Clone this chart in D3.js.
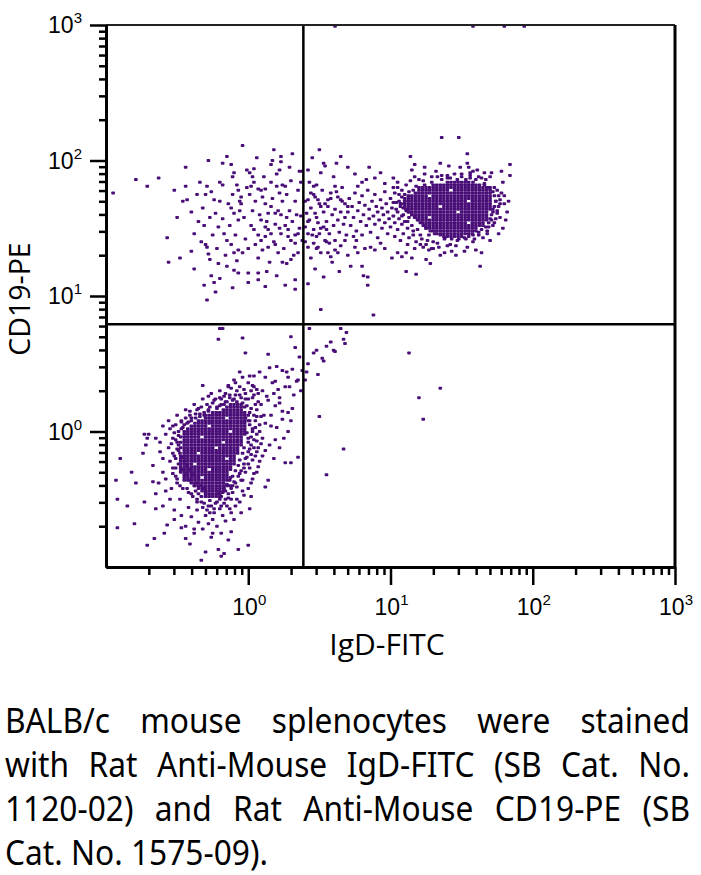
<!DOCTYPE html>
<html>
<head>
<meta charset="utf-8">
<script src="https://cdn.jsdelivr.net/npm/d3@7"></script>
<style>
  body { margin: 0; background: #fff; }
</style>
</head>
<body>
<svg id="chart" width="701" height="875"></svg>
<script>
// axis decades (log10) and their labels
const decades = [-1, 0, 1, 2, 3]
const tickExponents = ["", "0", "1", "2", "3"]

// quadrant gates (fluorescence units)
const igdGate = 2.44
const cd19Gate = 6.2

// events, all values in log10 units: [IgD-FITC, CD19-PE]
// dense IgD-/CD19- core, written row by row: [CD19, [IgD, ...]]
const negCoreRows = [
  [0.20, [-0.125, -0.1, -0.075, -0.05]],
  [0.18, [-0.15, -0.125, -0.1, -0.075, -0.05, -0.025]],
  [0.16, [-0.175, -0.15, -0.125, -0.1, -0.075, -0.05]],
  [0.14, [-0.25, -0.225, -0.2, -0.175, -0.15, -0.125, -0.1, -0.075, -0.05, -0.025]],
  [0.12, [-0.3, -0.275, -0.25, -0.225, -0.2, -0.175, -0.15, -0.125, -0.1, -0.075, -0.05, -0.025, 0]],
  [0.10, [-0.3, -0.275, -0.25, -0.225, -0.2, -0.175, -0.125, -0.1, -0.075, -0.05, -0.025]],
  [0.08, [-0.35, -0.325, -0.3, -0.275, -0.25, -0.225, -0.2, -0.175, -0.15, -0.125, -0.1, -0.075, -0.05, -0.025, 0]],
  [0.06, [-0.375, -0.35, -0.325, -0.3, -0.275, -0.25, -0.225, -0.2, -0.175, -0.15, -0.125, -0.1, -0.075, -0.05, -0.025]],
  [0.04, [-0.4, -0.375, -0.35, -0.325, -0.3, -0.25, -0.225, -0.2, -0.175, -0.15, -0.125, -0.1, -0.075, -0.05, -0.025]],
  [0.02, [-0.425, -0.4, -0.375, -0.35, -0.325, -0.3, -0.275, -0.25, -0.225, -0.2, -0.175, -0.15, -0.125, -0.1, -0.075, -0.05, -0.025]],
  [0.00, [-0.45, -0.425, -0.4, -0.375, -0.35, -0.325, -0.3, -0.275, -0.25, -0.225, -0.2, -0.175, -0.15, -0.1, -0.075, -0.05, -0.025]],
  [-0.02, [-0.45, -0.425, -0.4, -0.375, -0.35, -0.325, -0.3, -0.275, -0.25, -0.225, -0.2, -0.175, -0.15, -0.125, -0.1, -0.075, -0.05, -0.025]],
  [-0.04, [-0.475, -0.45, -0.425, -0.4, -0.375, -0.35, -0.3, -0.275, -0.25, -0.225, -0.2, -0.175, -0.15, -0.125, -0.1, -0.075, -0.05]],
  [-0.06, [-0.45, -0.425, -0.4, -0.375, -0.35, -0.325, -0.3, -0.275, -0.25, -0.225, -0.2, -0.175, -0.15, -0.125, -0.1, -0.075, -0.05]],
  [-0.08, [-0.475, -0.45, -0.425, -0.4, -0.375, -0.35, -0.325, -0.3, -0.275, -0.25, -0.225, -0.2, -0.15, -0.125, -0.1, -0.075, -0.05]],
  [-0.10, [-0.45, -0.425, -0.4, -0.375, -0.35, -0.325, -0.3, -0.275, -0.25, -0.225, -0.2, -0.175, -0.15, -0.125, -0.1, -0.075, -0.05]],
  [-0.12, [-0.475, -0.45, -0.425, -0.4, -0.375, -0.35, -0.325, -0.3, -0.275, -0.25, -0.2, -0.175, -0.15, -0.125, -0.1, -0.075]],
  [-0.14, [-0.45, -0.425, -0.4, -0.375, -0.35, -0.325, -0.3, -0.275, -0.25, -0.225, -0.2, -0.175, -0.15, -0.125, -0.1, -0.075]],
  [-0.16, [-0.45, -0.425, -0.4, -0.375, -0.325, -0.3, -0.275, -0.25, -0.225, -0.2, -0.175, -0.15, -0.125, -0.1, -0.075]],
  [-0.18, [-0.475, -0.45, -0.425, -0.4, -0.375, -0.35, -0.325, -0.3, -0.275, -0.25, -0.225, -0.2, -0.175, -0.15, -0.125, -0.1]],
  [-0.20, [-0.475, -0.45, -0.425, -0.4, -0.375, -0.35, -0.325, -0.3, -0.275, -0.25, -0.225, -0.2, -0.175, -0.125, -0.1]],
  [-0.22, [-0.475, -0.45, -0.425, -0.4, -0.375, -0.35, -0.325, -0.3, -0.275, -0.25, -0.225, -0.2, -0.175, -0.15, -0.125, -0.1]],
  [-0.24, [-0.475, -0.45, -0.425, -0.4, -0.35, -0.325, -0.3, -0.275, -0.25, -0.225, -0.2, -0.175, -0.15, -0.125, -0.1]],
  [-0.26, [-0.475, -0.45, -0.425, -0.4, -0.375, -0.35, -0.325, -0.3, -0.275, -0.25, -0.225, -0.2, -0.175, -0.15, -0.125]],
  [-0.28, [-0.475, -0.45, -0.425, -0.4, -0.375, -0.35, -0.325, -0.3, -0.25, -0.225, -0.2, -0.175, -0.15, -0.125]],
  [-0.30, [-0.475, -0.45, -0.425, -0.4, -0.375, -0.35, -0.325, -0.3, -0.275, -0.25, -0.225, -0.2, -0.175, -0.15]],
  [-0.32, [-0.45, -0.425, -0.4, -0.375, -0.35, -0.325, -0.3, -0.275, -0.25, -0.225, -0.2, -0.175, -0.15]],
  [-0.34, [-0.45, -0.425, -0.4, -0.375, -0.35, -0.3, -0.275, -0.25, -0.225, -0.2, -0.175, -0.15, -0.125]],
  [-0.36, [-0.425, -0.4, -0.375, -0.35, -0.325, -0.3, -0.275, -0.25, -0.225, -0.2, -0.175, -0.15]],
  [-0.38, [-0.4, -0.375, -0.35, -0.325, -0.3, -0.275, -0.25, -0.225, -0.2, -0.175]],
  [-0.40, [-0.375, -0.35, -0.325, -0.3, -0.275, -0.25, -0.225, -0.2, -0.175, -0.15]],
  [-0.42, [-0.35, -0.325, -0.3, -0.275, -0.25, -0.225, -0.2, -0.175]],
  [-0.44, [-0.325, -0.3, -0.275, -0.25, -0.225, -0.2, -0.175]],
  [-0.46, [-0.3, -0.275, -0.25, -0.225, -0.2]],
  [-0.48, [-0.3, -0.275, -0.25, -0.225, -0.2]]
]

// crowded rim just outside the IgD-/CD19- core
const negEdge = [
  [-0.01, 0.19], [0.01, 0.14], [-0.02, 0.10], [0.01, 0.05], [0.03, 0.00], [-0.01, -0.01], [0.02, -0.04], [0.00, -0.08],
  [0.04, -0.06], [-0.03, -0.12], [0.01, -0.13], [-0.04, -0.16], [-0.01, -0.19], [0.03, -0.21], [-0.06, -0.21], [-0.07, -0.25],
  [-0.03, -0.27], [-0.09, -0.29], [-0.06, -0.31], [-0.11, -0.33], [-0.13, -0.36], [-0.15, -0.39], [-0.17, -0.42], [-0.12, -0.42],
  [-0.18, -0.45], [-0.21, -0.46], [-0.20, -0.50], [-0.23, -0.53], [-0.27, -0.51], [-0.30, -0.48], [-0.31, -0.42], [-0.33, -0.40],
  [-0.36, -0.38], [-0.35, -0.34], [-0.38, -0.32], [-0.40, -0.30], [-0.42, -0.28], [-0.43, -0.25], [-0.45, -0.22], [-0.46, -0.19],
  [-0.48, -0.16], [-0.50, -0.13], [-0.49, -0.10], [-0.51, -0.06], [-0.49, -0.03], [-0.47, 0.02], [-0.45, 0.05], [-0.42, 0.07],
  [-0.40, 0.10], [-0.37, 0.10], [-0.34, 0.13], [-0.31, 0.12], [-0.28, 0.15], [-0.27, 0.18], [-0.22, 0.17], [-0.20, 0.19],
  [-0.17, 0.20], [-0.15, 0.22], [-0.11, 0.23], [-0.08, 0.22], [-0.04, 0.21], [-0.02, 0.24], [-0.13, 0.25], [-0.06, 0.27],
  [0.05, 0.03], [0.06, -0.02], [0.04, -0.12], [0.06, -0.15], [0.02, -0.17], [0.00, -0.24], [-0.02, -0.30], [-0.05, -0.36],
  [-0.09, -0.38], [-0.11, -0.40], [-0.14, -0.46], [-0.16, -0.50], [-0.19, -0.55], [-0.24, -0.57], [-0.28, -0.55], [-0.33, -0.52],
  [-0.35, -0.46], [-0.38, -0.40], [-0.41, -0.36], [-0.44, -0.32], [-0.47, -0.28], [-0.49, -0.24], [-0.51, -0.20], [-0.53, -0.16],
  [-0.54, -0.09], [-0.52, -0.01], [-0.51, 0.05], [-0.47, 0.07], [-0.44, 0.10], [-0.41, 0.15], [-0.36, 0.16], [-0.33, 0.18],
  [-0.29, 0.20], [-0.24, 0.23], [-0.20, 0.25], [-0.16, 0.28], [-0.09, 0.27], [-0.03, 0.31], [0.02, 0.30], [0.04, 0.27],
  [0.07, 0.22], [0.06, 0.11], [0.08, 0.00], [0.09, -0.09], [-0.51, -0.33], [-0.50, -0.38], [-0.46, -0.42], [-0.42, -0.45],
  [-0.39, -0.48], [-0.36, -0.52], [-0.32, -0.56], [-0.27, -0.60], [-0.15, -0.55], [-0.12, -0.50], [-0.53, -0.27]
]

// IgD-/CD19- events around the core
const negScatter = [
  [-0.55, 0.02], [-0.53, -0.05], [-0.56, -0.12], [-0.52, -0.18], [-0.55, -0.22], [-0.51, -0.27], [-0.53, -0.31], [-0.50, -0.35],
  [-0.48, -0.40], [-0.45, -0.36], [-0.43, -0.42], [-0.40, -0.46], [-0.37, -0.44], [-0.36, -0.50], [-0.33, -0.48], [-0.31, -0.53],
  [-0.30, -0.45], [-0.29, -0.58], [-0.26, -0.55], [-0.24, -0.60], [-0.22, -0.52], [-0.20, -0.57], [-0.19, -0.48], [-0.17, -0.53],
  [-0.16, -0.44], [-0.14, -0.49], [-0.13, -0.40], [-0.11, -0.45], [-0.10, -0.37], [-0.08, -0.41], [-0.07, -0.33], [-0.05, -0.29],
  [-0.04, -0.36], [-0.03, -0.24], [-0.02, -0.20], [0.00, -0.15], [0.01, -0.27], [0.02, -0.10], [0.00, -0.05], [0.03, 0.02],
  [0.01, 0.08], [0.04, 0.12], [0.02, 0.17], [0.05, 0.20], [0.00, 0.24], [-0.02, 0.28], [-0.05, 0.25], [-0.08, 0.30],
  [-0.10, 0.24], [-0.13, 0.27], [-0.16, 0.22], [-0.19, 0.20], [-0.22, 0.18], [-0.25, 0.21], [-0.28, 0.16], [-0.31, 0.14],
  [-0.34, 0.11], [-0.37, 0.13], [-0.40, 0.08], [-0.43, 0.06], [-0.46, 0.03], [-0.49, 0.00], [-0.50, -0.08], [-0.49, -0.14],
  [-0.65, -0.05], [-0.62, -0.15], [-0.67, -0.25], [-0.60, -0.30], [-0.63, -0.38], [-0.58, -0.44], [-0.55, -0.50], [-0.60, -0.55],
  [-0.52, -0.58], [-0.47, -0.62], [-0.44, -0.70], [-0.40, -0.63], [-0.35, -0.67], [-0.38, -0.75], [-0.32, -0.72], [-0.28, -0.68],
  [-0.26, -0.78], [-0.22, -0.70], [-0.19, -0.75], [-0.16, -0.66], [-0.12, -0.60], [-0.09, -0.55], [-0.06, -0.52], [-0.03, -0.47],
  [0.00, -0.42], [0.03, -0.35], [0.06, -0.30], [0.08, -0.22], [0.07, -0.12], [0.10, -0.05], [0.08, 0.05], [0.11, 0.12],
  [0.09, 0.20], [0.07, 0.28], [0.04, 0.33], [0.00, 0.36], [-0.04, 0.40], [-0.09, 0.36], [-0.14, 0.33], [-0.20, 0.30],
  [-0.26, 0.28], [-0.32, 0.24], [-0.38, 0.20], [-0.44, 0.16], [-0.50, 0.12], [-0.56, 0.08], [-0.60, 0.04], [-0.70, -0.02],
  [-0.72, -0.10], [-0.58, -0.02], [-0.60, -0.20], [-0.62, -0.08], [-0.58, -0.35], [-0.54, -0.42], [-0.48, -0.50], [-0.42, -0.56],
  [-0.36, -0.58], [-0.30, -0.62], [-0.25, -0.65], [-0.18, -0.62], [-0.13, -0.57], [-0.08, -0.50], [-0.04, -0.44], [0.02, -0.38],
  [0.05, -0.18], [0.06, -0.07], [0.05, 0.08], [0.06, 0.16], [0.03, 0.25], [-0.06, 0.33], [-0.17, 0.26], [-0.23, 0.24],
  [-0.35, 0.17], [-0.41, 0.12], [-0.47, 0.08], [-0.53, 0.04],
  [-0.93, -0.36], [-0.92, -0.50], [-0.92, -0.71], [-0.82, -0.30], [-0.79, -0.38], [-0.73, -0.02], [-0.71, -0.05], [-0.74, -0.16],
  [-0.71, -0.84], [-0.66, -0.79], [-0.67, -0.37], [-0.73, -0.52], [-0.65, -0.46], [-0.65, -0.57], [-0.59, -0.75], [-0.57, -0.69],
  [-0.52, -0.65], [-0.47, -0.71], [-0.44, -0.79], [-0.41, -0.83], [-0.38, -0.72], [-0.33, -0.95], [-0.30, -0.89], [-0.25, -0.75],
  [-0.21, -0.87], [-0.19, -0.92], [-0.17, -0.90], [-0.14, -0.80], [-0.12, -0.74], [-0.07, -0.87], [0.00, -0.84], [-0.10, -0.65],
  [-0.05, -0.60], [0.01, -0.57], [0.14, -0.36], [0.12, -0.41], [0.26, -0.23], [0.30, -0.23], [0.35, -0.19], [0.28, 0.00],
  [0.24, 0.09], [0.28, 0.14], [0.31, 0.17], [0.19, 0.19], [0.22, 0.21], [0.14, 0.23], [0.17, 0.36], [0.19, 0.37],
  [0.21, 0.31], [0.26, 0.33], [0.29, 0.33], [0.34, 0.37], [0.35, 0.38], [0.04, 0.41], [0.01, 0.41], [0.03, 0.34],
  [0.06, 0.31], [-0.06, 0.44], [-0.10, 0.38], [-0.12, 0.32], [-0.14, 0.34], [-0.32, 0.34], [-0.28, 0.26], [-0.19, 0.24],
  [-0.20, 0.76], [-0.18, 0.76], [-0.21, 0.68], [-0.04, 0.69], [-0.02, 0.58], [0.14, 0.57], [0.20, 0.48], [0.24, 0.45],
  [0.27, 0.44], [0.09, 0.11], [0.16, 0.04], [0.19, -0.06], [0.12, -0.14], [0.07, -0.26], [0.04, -0.31], [0.02, -0.48],
  [0.10, 0.30], [0.13, 0.26], [0.18, 0.28], [0.22, 0.25], [0.24, 0.15], [0.16, 0.12], [0.12, 0.06], [0.20, 0.03],
  [0.25, -0.05], [0.15, -0.10], [0.10, -0.18], [0.18, -0.20], [0.22, -0.12], [0.30, 0.08], [0.32, 0.27], [0.28, 0.40],
  [0.12, 0.40], [0.08, 0.44], [0.15, 0.47], [0.31, 0.46], [-0.90, -0.20], [-0.85, -0.55], [-0.80, -0.68]
]

// IgD-/CD19+ events (upper left quadrant)
const cd19Only = [
  [-0.95, 1.76], [-0.79, 1.86], [-0.71, 1.81], [-0.63, 1.87], [-0.57, 1.43], [-0.44, 1.81], [-0.43, 1.71], [-0.40, 1.62],
  [-0.38, 1.46], [-0.34, 1.84], [-0.32, 1.65], [-0.30, 1.75], [-0.28, 2.00], [-0.29, 1.81], [-0.26, 1.77], [-0.30, 1.38],
  [-0.29, 1.36], [-0.28, 1.31], [-0.27, 1.27], [-0.26, 1.15], [-0.24, 1.10], [-0.24, 1.71], [-0.23, 1.61], [-0.20, 1.84],
  [-0.18, 1.82], [-0.21, 1.51], [-0.15, 2.03], [-0.18, 1.98], [-0.12, 1.97], [-0.11, 1.88], [-0.10, 1.91], [-0.08, 1.82],
  [-0.07, 1.78], [-0.05, 1.73], [-0.04, 2.11], [-0.14, 1.68], [-0.12, 1.65], [-0.10, 1.61], [-0.07, 1.56], [-0.06, 1.63],
  [-0.05, 1.68], [-0.17, 1.46], [-0.15, 1.41], [-0.12, 1.38], [-0.10, 1.32], [-0.07, 1.34], [-0.04, 1.32], [0.00, 1.35],
  [-0.21, 1.24], [-0.15, 1.22], [-0.10, 1.19], [-0.07, 1.17], [0.00, 1.17], [0.07, 1.17], [0.13, 1.18], [0.07, 1.12],
  [0.01, 1.75], [0.02, 1.81], [0.03, 1.88], [0.04, 1.84], [0.07, 1.79], [0.09, 1.78], [0.12, 1.79], [-0.01, 1.93],
  [0.01, 1.91], [0.04, 1.94], [0.16, 1.97], [0.17, 2.00], [0.23, 2.03], [0.23, 1.99], [0.22, 1.93], [0.16, 1.84],
  [0.20, 1.81], [0.22, 1.76], [0.24, 1.82], [0.26, 1.81], [0.12, 1.68], [0.14, 1.61], [0.16, 1.66], [0.19, 1.61],
  [0.21, 1.63], [0.23, 1.60], [0.27, 1.58], [0.09, 1.56], [0.12, 1.51], [0.14, 1.49], [0.16, 1.46], [0.12, 1.44],
  [0.28, 1.49], [0.28, 1.44], [0.30, 1.41], [0.33, 1.45], [0.35, 1.46], [0.22, 1.50], [0.23, 1.46], [0.04, 1.49],
  [0.07, 1.45], [0.09, 1.41], [0.14, 1.36], [0.19, 1.38], [0.21, 1.32], [0.24, 1.25], [0.27, 1.24], [0.33, 1.39],
  [0.35, 1.32], [0.30, 1.27], [0.33, 1.12], [0.33, 1.05], [0.37, 1.84], [0.38, 1.92], [0.37, 1.59], [0.38, 1.41],
  [-0.35, 1.55], [-0.33, 1.40], [-0.31, 1.52], [-0.27, 1.58], [-0.25, 1.45], [-0.22, 1.35], [-0.20, 1.70], [-0.18, 1.57],
  [-0.16, 1.30], [-0.13, 1.52], [-0.11, 1.75], [-0.09, 1.45], [-0.08, 1.26], [-0.06, 1.70], [-0.03, 1.58], [-0.02, 1.42],
  [-0.01, 1.80], [0.02, 1.52], [0.03, 1.63], [0.05, 1.38], [0.05, 1.70], [0.07, 1.28], [0.08, 1.60], [0.10, 1.73],
  [0.10, 1.34], [0.11, 1.88], [0.13, 1.55], [0.15, 1.25], [0.17, 1.72], [0.18, 1.40], [0.19, 1.53], [0.20, 1.90],
  [0.24, 1.70], [0.25, 1.35], [0.26, 1.52], [0.27, 1.75], [0.29, 1.63], [0.30, 1.85], [0.31, 1.55], [0.32, 1.30],
  [0.33, 1.70], [0.34, 1.60], [0.35, 1.78], [0.36, 1.50], [0.36, 1.92], [0.29, 1.95], [0.31, 2.05], [0.18, 2.08],
  [0.06, 2.02], [-0.40, 1.33], [-0.46, 1.70], [-0.50, 1.58], [-0.36, 1.75], [-0.44, 1.95], [-0.52, 1.78], [-0.48, 1.28],
  [-0.56, 1.25], [-0.38, 1.20], [-0.20, 1.13], [0.00, 1.10], [0.20, 1.15], [0.26, 1.08], [-0.29, 0.97], [-0.23, 1.03],
  [-0.11, 1.06], [-0.31, 1.08], [0.12, 1.07]
]

// dense IgD+/CD19+ core, row by row: [CD19, [IgD, ...]]
const posCoreRows = [
  [1.84, [1.4, 1.425, 1.45, 1.475, 1.5, 1.525, 1.55]],
  [1.82, [1.3, 1.325, 1.35, 1.375, 1.4, 1.425, 1.45, 1.475, 1.5, 1.525, 1.55, 1.575, 1.6, 1.625]],
  [1.80, [1.225, 1.25, 1.275, 1.3, 1.325, 1.35, 1.375, 1.4, 1.425, 1.45, 1.475, 1.5, 1.525, 1.55, 1.575, 1.6, 1.625, 1.65, 1.675]],
  [1.78, [1.2, 1.225, 1.25, 1.275, 1.3, 1.325, 1.35, 1.375, 1.4, 1.45, 1.475, 1.5, 1.525, 1.55, 1.575, 1.6, 1.625, 1.65, 1.675, 1.7]],
  [1.76, [1.175, 1.2, 1.225, 1.25, 1.275, 1.3, 1.325, 1.35, 1.375, 1.4, 1.425, 1.45, 1.475, 1.5, 1.525, 1.55, 1.575, 1.6, 1.625, 1.65, 1.675, 1.7]],
  [1.74, [1.125, 1.15, 1.175, 1.2, 1.225, 1.25, 1.3, 1.325, 1.35, 1.375, 1.4, 1.425, 1.45, 1.475, 1.5, 1.525, 1.55, 1.575, 1.6, 1.625, 1.65, 1.675, 1.7]],
  [1.72, [1.1, 1.125, 1.15, 1.175, 1.2, 1.225, 1.25, 1.275, 1.3, 1.325, 1.35, 1.375, 1.4, 1.425, 1.45, 1.475, 1.5, 1.525, 1.55, 1.575, 1.6, 1.625, 1.65, 1.675, 1.7]],
  [1.70, [1.1, 1.125, 1.15, 1.175, 1.2, 1.225, 1.25, 1.275, 1.3, 1.325, 1.35, 1.375, 1.4, 1.425, 1.45, 1.475, 1.5, 1.525, 1.575, 1.6, 1.625, 1.65, 1.675, 1.7]],
  [1.68, [1.075, 1.1, 1.125, 1.15, 1.175, 1.2, 1.225, 1.25, 1.275, 1.3, 1.325, 1.35, 1.375, 1.4, 1.425, 1.45, 1.475, 1.5, 1.525, 1.55, 1.575, 1.6, 1.625, 1.65, 1.675, 1.7]],
  [1.66, [1.1, 1.125, 1.15, 1.175, 1.2, 1.225, 1.25, 1.275, 1.3, 1.325, 1.375, 1.4, 1.425, 1.45, 1.475, 1.5, 1.525, 1.55, 1.575, 1.6, 1.625, 1.65, 1.675, 1.7]],
  [1.64, [1.125, 1.15, 1.175, 1.2, 1.225, 1.25, 1.275, 1.3, 1.325, 1.35, 1.375, 1.4, 1.425, 1.45, 1.475, 1.5, 1.525, 1.55, 1.575, 1.6, 1.625, 1.65, 1.675, 1.7]],
  [1.62, [1.125, 1.15, 1.175, 1.2, 1.225, 1.25, 1.275, 1.3, 1.325, 1.35, 1.375, 1.4, 1.425, 1.45, 1.5, 1.525, 1.55, 1.575, 1.6, 1.625, 1.65, 1.675]],
  [1.60, [1.15, 1.175, 1.2, 1.225, 1.25, 1.275, 1.3, 1.325, 1.35, 1.375, 1.4, 1.425, 1.45, 1.475, 1.5, 1.525, 1.55, 1.575, 1.6, 1.625, 1.65, 1.675]],
  [1.58, [1.175, 1.2, 1.225, 1.25, 1.3, 1.325, 1.35, 1.375, 1.4, 1.425, 1.45, 1.475, 1.5, 1.525, 1.55, 1.575, 1.6, 1.625, 1.65, 1.675]],
  [1.56, [1.2, 1.225, 1.25, 1.275, 1.3, 1.325, 1.35, 1.375, 1.4, 1.425, 1.45, 1.475, 1.5, 1.525, 1.55, 1.575, 1.6, 1.625, 1.65, 1.675]],
  [1.54, [1.225, 1.25, 1.275, 1.3, 1.325, 1.35, 1.375, 1.4, 1.425, 1.45, 1.475, 1.5, 1.525, 1.575, 1.6, 1.625, 1.65]],
  [1.52, [1.25, 1.275, 1.3, 1.325, 1.35, 1.375, 1.4, 1.425, 1.45, 1.475, 1.5, 1.525, 1.55, 1.575, 1.6, 1.625, 1.65]],
  [1.50, [1.25, 1.275, 1.3, 1.325, 1.35, 1.375, 1.4, 1.425, 1.45, 1.475, 1.5, 1.525, 1.55, 1.575, 1.6]],
  [1.48, [1.3, 1.325, 1.35, 1.375, 1.4, 1.425, 1.45, 1.475, 1.5, 1.525, 1.55, 1.575, 1.6]],
  [1.46, [1.325, 1.35, 1.375, 1.4, 1.425, 1.45, 1.475, 1.5, 1.525, 1.55, 1.575]],
  [1.44, [1.375, 1.4, 1.425, 1.45, 1.475, 1.5]]
]

// crowded rim just outside the IgD+/CD19+ core
const posEdge = [
  [1.36, 1.86], [1.42, 1.87], [1.47, 1.86], [1.53, 1.86], [1.58, 1.84], [1.29, 1.84], [1.24, 1.82], [1.20, 1.80],
  [1.66, 1.82], [1.69, 1.80], [1.72, 1.77], [1.73, 1.74], [1.74, 1.70], [1.73, 1.66], [1.72, 1.64], [1.71, 1.60],
  [1.70, 1.57], [1.69, 1.54], [1.67, 1.51], [1.64, 1.49], [1.62, 1.47], [1.58, 1.45], [1.55, 1.44], [1.53, 1.42],
  [1.48, 1.42], [1.43, 1.42], [1.38, 1.43], [1.35, 1.45], [1.31, 1.46], [1.28, 1.48], [1.25, 1.50], [1.23, 1.52],
  [1.21, 1.54], [1.19, 1.56], [1.17, 1.58], [1.15, 1.60], [1.13, 1.62], [1.11, 1.63], [1.09, 1.65], [1.07, 1.68],
  [1.06, 1.70], [1.08, 1.73], [1.10, 1.75], [1.13, 1.77], [1.16, 1.78], [1.18, 1.81], [1.23, 1.85], [1.33, 1.88],
  [1.40, 1.89], [1.50, 1.90], [1.56, 1.89], [1.62, 1.88], [1.67, 1.86], [1.73, 1.80], [1.76, 1.74], [1.77, 1.68],
  [1.75, 1.63], [1.74, 1.57], [1.72, 1.52], [1.68, 1.46], [1.65, 1.43], [1.59, 1.42], [1.46, 1.37], [1.40, 1.37],
  [1.33, 1.39], [1.26, 1.41], [1.21, 1.45], [1.16, 1.48], [1.12, 1.55], [1.08, 1.59], [1.04, 1.64], [1.02, 1.69],
  [1.03, 1.76], [1.05, 1.80]
]

// IgD+/CD19+ events outside the core
const posScatter = [
  [0.42, 1.93], [0.43, 1.84], [0.46, 1.81], [0.48, 1.82], [0.50, 2.08], [0.53, 1.98], [0.51, 1.91], [0.54, 1.96],
  [0.44, 1.76], [0.47, 1.73], [0.49, 1.71], [0.51, 1.66], [0.54, 1.68], [0.56, 1.71], [0.58, 1.76], [0.42, 1.71],
  [0.41, 1.61], [0.43, 1.56], [0.47, 1.61], [0.49, 1.54], [0.40, 1.51], [0.42, 1.46], [0.46, 1.49], [0.48, 1.44],
  [0.50, 1.46], [0.53, 1.51], [0.55, 1.49], [0.42, 1.36], [0.46, 1.39], [0.49, 1.36], [0.51, 1.32], [0.54, 1.41],
  [0.57, 1.39], [0.61, 1.41], [0.56, 1.32], [0.58, 1.29], [0.61, 1.34], [0.63, 1.32], [0.65, 1.37], [0.68, 1.41],
  [0.53, 1.14], [0.42, 1.09], [0.65, 2.03], [0.61, 1.81], [0.63, 1.73], [0.65, 1.71], [0.68, 1.68], [0.70, 1.66],
  [0.85, 1.95], [0.93, 1.91], [0.89, 1.87], [0.83, 1.86], [0.80, 1.84], [0.77, 1.81], [1.02, 1.87], [1.05, 1.84],
  [0.96, 1.83], [1.14, 2.03], [1.17, 1.97], [1.15, 1.93], [1.35, 1.98], [1.36, 2.17], [1.48, 2.17], [1.54, 2.05],
  [1.54, 1.98], [1.55, 1.95], [1.56, 1.91], [1.58, 1.92], [1.84, 1.97], [1.84, 1.89], [1.78, 1.92], [1.79, 1.84],
  [1.71, 1.91], [1.66, 1.91], [1.64, 1.87], [1.63, 1.22], [1.64, 1.32], [1.54, 1.36], [1.43, 1.33], [1.38, 1.32],
  [1.28, 1.24], [1.25, 1.27], [1.11, 1.18], [1.18, 1.16], [0.84, 1.08], [0.84, 1.14], [0.81, 1.15], [0.80, 1.22],
  [1.15, 1.28], [1.11, 1.32], [1.08, 1.29], [1.05, 1.32], [1.01, 1.28], [0.96, 1.35], [0.93, 1.39], [0.89, 1.34],
  [0.86, 1.36], [0.82, 1.35], [0.77, 1.32], [0.74, 1.44], [0.76, 1.41], [0.75, 1.36], [1.27, 1.34], [1.23, 1.36],
  [1.29, 1.35], [1.69, 1.51], [1.71, 1.56], [1.75, 1.61], [1.76, 1.66], [1.77, 1.71], [1.78, 1.76],
  [0.70, 1.62], [0.71, 1.72], [0.72, 1.52], [0.73, 1.66], [0.74, 1.58], [0.75, 1.76], [0.76, 1.48], [0.77, 1.63],
  [0.78, 1.69], [0.79, 1.55], [0.80, 1.45], [0.80, 1.74], [0.81, 1.60], [0.82, 1.67], [0.83, 1.52], [0.84, 1.78],
  [0.85, 1.57], [0.85, 1.64], [0.86, 1.47], [0.87, 1.70], [0.88, 1.59], [0.89, 1.53], [0.89, 1.75], [0.90, 1.66],
  [0.91, 1.43], [0.91, 1.62], [0.92, 1.56], [0.93, 1.71], [0.94, 1.50], [0.94, 1.65], [0.95, 1.60], [0.96, 1.77],
  [0.96, 1.54], [0.97, 1.68], [0.98, 1.46], [0.98, 1.62], [0.99, 1.57], [1.00, 1.72], [1.00, 1.51], [1.01, 1.65],
  [1.02, 1.59], [1.02, 1.80], [1.03, 1.44], [1.03, 1.54], [1.04, 1.69], [1.05, 1.62], [1.05, 1.49], [1.06, 1.75],
  [1.06, 1.57], [1.07, 1.66], [1.07, 1.41], [1.08, 1.53], [1.08, 1.78], [1.09, 1.60], [1.09, 1.46], [1.10, 1.70],
  [1.10, 1.55], [1.11, 1.64], [1.11, 1.82], [1.12, 1.50], [1.13, 1.58], [1.13, 1.43], [1.14, 1.85], [1.15, 1.52],
  [1.16, 1.45], [1.17, 1.88], [1.18, 1.40], [1.19, 1.49], [1.20, 1.86], [1.22, 1.42], [1.24, 1.90], [1.25, 1.38],
  [1.27, 1.45], [1.29, 1.88], [1.30, 1.40], [1.32, 1.92], [1.34, 1.36], [1.36, 1.89], [1.38, 1.42], [1.40, 1.87],
  [1.42, 1.38], [1.45, 1.90], [1.47, 1.41], [1.50, 1.88], [1.52, 1.43], [1.56, 1.87], [1.58, 1.40], [1.60, 1.86],
  [1.62, 1.45], [1.66, 1.83], [1.68, 1.48], [1.70, 1.80], [1.72, 1.62], [1.74, 1.70], [1.73, 1.54], [1.75, 1.78],
  [1.77, 1.58], [1.80, 1.68], [1.82, 1.62], [1.79, 1.50],
  [0.40, 1.70], [0.42, 1.55], [0.44, 1.65], [0.45, 1.45], [0.46, 1.75], [0.48, 1.58], [0.50, 1.68], [0.51, 1.50],
  [0.52, 1.78], [0.53, 1.62], [0.55, 1.55], [0.56, 1.66], [0.57, 1.46], [0.58, 1.72], [0.59, 1.60], [0.60, 1.52],
  [0.61, 1.64], [0.62, 1.77], [0.63, 1.56], [0.64, 1.47], [0.65, 1.62], [0.66, 1.70], [0.67, 1.53], [0.68, 1.58],
  [0.69, 1.45], [0.66, 1.80], [0.60, 1.88], [0.55, 1.40], [0.48, 1.35], [0.44, 1.28], [0.59, 1.25], [0.70, 1.30],
  [0.72, 1.22], [0.64, 1.18], [0.47, 1.20], [0.75, 1.90], [0.70, 1.95], [0.62, 1.98], [0.45, 2.02], [0.40, 1.40],
  [1.24, 1.95], [1.41, 1.96], [1.49, 1.95], [1.61, 1.93], [1.70, 1.88], [1.80, 1.74], [1.83, 1.70], [1.81, 1.56],
  [1.76, 1.46], [1.70, 1.41], [1.60, 1.34], [1.52, 1.33], [1.46, 1.30], [1.35, 1.30], [1.30, 1.35], [1.21, 1.38],
  [1.17, 1.35], [1.12, 1.38], [0.88, 0.86],
  [0.61, 2.99], [1.58, 2.99], [1.80, 2.99], [1.94, 2.99]
]

// events between the populations and lone outliers
const transitional = [
  [0.43, 0.76], [0.41, 0.44], [0.42, 0.50], [0.46, 0.58], [0.48, 0.60], [0.49, 0.42], [0.52, 0.54], [0.53, 0.52],
  [0.55, 0.63], [0.60, 0.60], [0.58, 0.66], [0.61, 0.59], [0.67, 0.68], [0.68, 0.65], [0.65, 0.76], [0.69, 0.73],
  [0.40, 0.38], [0.38, 0.45], [0.51, 0.90], [0.67, -0.13], [0.55, -0.32], [0.50, 0.11], [1.13, 0.58], [1.35, 0.32],
  [1.20, 0.25], [1.23, 0.09], [0.36, 0.55], [0.33, 0.62], [0.30, 0.70], [0.37, 0.30]
]

const captionLines = [
  { text: "BALB/c mouse splenocytes were stained", justify: true },
  { text: "with Rat Anti-Mouse IgD-FITC (SB Cat. No.", justify: true },
  { text: "1120-02) and Rat Anti-Mouse CD19-PE (SB", justify: true },
  { text: "Cat. No. 1575-09).", justify: false }
]

const svg = d3.select("#chart")

const plot = { left: 106, right: 675, top: 25, bottom: 567 }

const x = d3.scaleLog().domain([0.1, 1000]).range([plot.left, plot.right])
const y = d3.scaleLog().domain([0.1, 1000]).range([plot.bottom, plot.top])

// flatten the row-written cores into points
const rowsToPoints = rows => rows.flatMap(([cd, xs]) => xs.map(v => [v, cd]))
const events = [].concat(
  negScatter, cd19Only, posScatter, transitional, negEdge, posEdge,
  rowsToPoints(negCoreRows), rowsToPoints(posCoreRows)
)

svg.append("clipPath").attr("id", "plotClip")
  .append("rect")
  .attr("x", plot.left).attr("y", plot.top)
  .attr("width", plot.right - plot.left).attr("height", plot.bottom - plot.top)

// each event is a small square dot, like the cytometer software draws
const dotW = 3.6, dotH = 3
svg.append("g")
  .attr("clip-path", "url(#plotClip)")
  .selectAll("rect")
  .data(events)
  .enter()
  .append("rect")
  .attr("x", d => x(Math.pow(10, d[0])) - dotW / 2)
  .attr("y", d => y(Math.pow(10, d[1])) - dotH / 2)
  .attr("width", dotW)
  .attr("height", dotH)
  .attr("rx", 0.8)
  .attr("fill", "#4a0e78")

// quadrant gates
svg.append("line")
  .attr("x1", x(igdGate)).attr("x2", x(igdGate))
  .attr("y1", plot.top).attr("y2", plot.bottom)
  .attr("stroke", "#000").attr("stroke-width", 2.5)
svg.append("line")
  .attr("x1", plot.left).attr("x2", plot.right)
  .attr("y1", y(cd19Gate)).attr("y2", y(cd19Gate))
  .attr("stroke", "#000").attr("stroke-width", 2.5)

// frame: top and right
svg.append("line")
  .attr("x1", plot.left).attr("x2", plot.right)
  .attr("y1", plot.top).attr("y2", plot.top)
  .attr("stroke", "#222").attr("stroke-width", 2)
svg.append("line")
  .attr("x1", plot.right).attr("x2", plot.right)
  .attr("y1", plot.top).attr("y2", plot.bottom)
  .attr("stroke", "#000").attr("stroke-width", 3)

// tick positions
const majorVals = decades.map(d => Math.pow(10, d))
const minorVals = decades.slice(0, -1).flatMap(d => d3.range(2, 10).map(k => k * Math.pow(10, d)))

function styleAxis(g) {
  g.select(".domain").attr("stroke", "#000").attr("stroke-width", 3)
  g.selectAll(".tick line").attr("stroke", "#000").attr("stroke-width", 2.5)
}

// minor ticks
svg.append("g")
  .attr("transform", "translate(" + plot.left + ",0)")
  .call(d3.axisLeft(y).tickValues(minorVals).tickSize(7).tickSizeOuter(0).tickFormat(""))
  .call(styleAxis)
svg.append("g")
  .attr("transform", "translate(0," + plot.bottom + ")")
  .call(d3.axisBottom(x).tickValues(minorVals).tickSize(8).tickSizeOuter(0).tickFormat(""))
  .call(styleAxis)

// major ticks
svg.append("g")
  .attr("transform", "translate(" + plot.left + ",0)")
  .call(d3.axisLeft(y).tickValues(majorVals.slice(1)).tickSize(16).tickSizeOuter(0).tickFormat(""))
  .call(styleAxis)
svg.append("g")
  .attr("transform", "translate(0," + plot.bottom + ")")
  .call(d3.axisBottom(x).tickValues(majorVals.slice(1)).tickSize(18).tickSizeOuter(0).tickFormat(""))
  .call(styleAxis)

// tick labels as 10 with a superscript exponent
const labelFont = "'Liberation Sans', Arial, sans-serif"
function powerLabel(g, exp, anchor) {
  const t = g.append("text")
    .attr("font-family", labelFont)
    .attr("text-anchor", anchor)
    .attr("fill", "#000")
  t.append("tspan").attr("font-size", 23).text("10")
  t.append("tspan").attr("font-size", 15).attr("dy", -10).text(exp)
  return t
}

decades.forEach((d, i) => {
  if (!tickExponents[i]) return
  const v = Math.pow(10, d)
  powerLabel(svg, tickExponents[i], "end")
    .attr("x", 82).attr("y", y(v) + 8)
  powerLabel(svg, tickExponents[i], "middle")
    .attr("x", x(v) + 1).attr("y", 615)
})

// axis titles
const titleFont = "'Open Sans', 'Noto Sans', sans-serif"
svg.append("text")
  .attr("x", 387)
  .attr("y", 655)
  .attr("text-anchor", "middle")
  .attr("font-family", titleFont)
  .attr("font-size", 30)
  .text("IgD-FITC")
svg.append("text")
  .attr("transform", "translate(30," + ((plot.top + plot.bottom) / 2 + 3) + ") rotate(-90)")
  .attr("text-anchor", "middle")
  .attr("font-family", titleFont)
  .attr("font-size", 28.5)
  .text("CD19-PE")

// caption: condensed look, justified like the source
const capLeft = 5, capRight = 690, lastLineEnd = 268, capBase = 733, capStep = 44
const capFont = "'Noto Sans', 'Open Sans', sans-serif"
const capSize = 35

const measure = svg.append("text")
  .attr("font-family", capFont).attr("font-size", capSize)
  .attr("visibility", "hidden")
const wordWidth = w => { measure.text(w); return measure.node().getComputedTextLength() }
const spaceWidth = wordWidth("a b") - wordWidth("ab")

const lastLine = captionLines[captionLines.length - 1].text
const sx = (lastLineEnd - capLeft) / wordWidth(lastLine)

const cap = svg.append("g")
  .attr("transform", "scale(" + sx + ",1)")
  .attr("font-family", capFont)
  .attr("font-size", capSize)
  .attr("fill", "#000")

captionLines.forEach((line, i) => {
  const words = line.text.split(" ")
  const widths = words.map(wordWidth)
  const total = d3.sum(widths)
  const gap = line.justify
    ? ((capRight - capLeft) / sx - total) / (words.length - 1)
    : spaceWidth
  let cx = capLeft / sx
  const t = cap.append("text").attr("y", capBase + i * capStep)
  words.forEach((w, j) => {
    t.append("tspan").attr("x", cx).text(w)
    cx += widths[j] + gap
  })
})
measure.remove()
</script>
</body>
</html>
